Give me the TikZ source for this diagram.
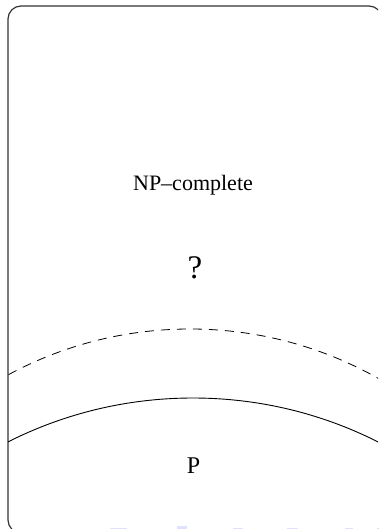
\documentclass[tikz,border=0pt]{standalone}
\usepackage{fontspec}
\setmainfont{Liberation Serif}
\begin{document}
\begin{tikzpicture}[x=1pt,y=-1pt,
  frame/.style={draw=black!80,line width=1.2pt,rounded corners=13pt},
  lbl/.style={inner sep=0pt,anchor=base},
  navmark/.style={fill=blue!12,draw=none}]
\useasboundingbox (0,0) rectangle (378,529);
\begin{scope}
\clip (0,0) rectangle (378,529);
\path[frame] (8,6) rectangle (382,533);
\begin{scope}
\clip[rounded corners=13pt] (8,6) rectangle (382,533);
\draw[dashed,dash pattern=on 9pt off 7pt,line width=0.8pt] (190,712) circle[radius=383];
\draw[line width=0.9pt] (193,809) circle[radius=411];
\end{scope}
\fill[navmark] (110,527.5) rectangle (127,529);
\fill[navmark] (177,526) rectangle (187,529);
\fill[navmark] (233,527.5) rectangle (243,529);
\fill[navmark] (287,527.5) rectangle (298,529);
\fill[navmark] (345,527.5) rectangle (353,529);
\end{scope}
\node[lbl,font=\fontsize{22}{26}\selectfont] (np) at (193,190) {NP--complete};
\node[lbl,font=\fontsize{33}{36}\selectfont] (q) at (195,278) {?};
\node[lbl,font=\fontsize{24}{28}\selectfont] (p) at (193.5,473) {P};
\end{tikzpicture}
\end{document}
